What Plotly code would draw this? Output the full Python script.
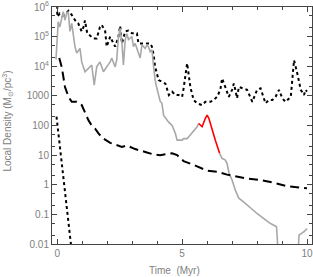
import plotly.graph_objects as go

# Dotted (upper) series
dot1_t = [0.0, 0.0, 0.1, 0.2, 0.3, 0.45, 0.58, 0.71, 0.84, 0.98, 1.05, 1.11, 1.2, 1.34, 1.45, 1.58,
          1.71, 1.78, 1.92, 1.98, 2.12, 2.25, 2.32, 2.45, 2.52, 2.59, 2.72, 2.85, 2.99, 3.12, 3.19,
          3.25, 3.4, 3.59, 3.72, 3.79, 3.86, 3.92, 3.99, 4.06, 4.19, 4.33, 4.47, 4.6, 4.73, 4.86,
          5.0, 5.06, 5.2, 5.26, 5.33, 5.46, 5.6, 5.8, 5.93, 6.13, 6.26, 6.4, 6.53, 6.6, 6.73, 6.87,
          7.0, 7.07, 7.13, 7.2, 7.27, 7.4, 7.6, 7.81, 8.0, 8.14, 8.34, 8.47, 8.61, 8.74, 8.88, 9.01,
          9.14, 9.35, 9.48, 9.61, 9.75, 9.88, 9.94, 10.0]
dot1_v = [1.1e6, 4.7e5, 6.0e5, 5.0e5, 5.5e5, 7.4e5, 5.4e5, 3.6e5, 2.8e5, 1.5e5, 2.1e5, 3.5e5, 1.3e5,
          1.0e5, 8.7e4, 8.7e4, 2.1e5, 2.5e5, 1.5e5, 4.6e4, 1.0e5, 5.9e4, 4.6e4, 1.0e5, 2.3e5, 5.9e4,
          1.5e5, 1.6e5, 1.3e5, 1.3e5, 1.3e5, 5.9e4, 5.9e4, 5.9e4, 5.9e4, 4.6e4, 2.4e4, 9.5e3, 5.0e3,
          3.4e3, 3.0e3, 2.6e3, 1.07e3, 1.38e3, 1.07e3, 1.07e3, 930, 1.8e3, 1.26e4, 5.8e3, 2.0e3,
          720, 560, 490, 630, 630, 720, 930, 1.6e3, 3.9e3, 1.8e3, 930, 1.6e3, 2.6e3, 1.6e3, 830,
          2.0e3, 1.8e3, 1.6e3, 630, 1.6e3, 1.8e3, 560, 720, 720, 930, 1.6e3, 830, 630, 930, 1.6e4,
          5.8e3, 1.6e3, 1.07e3, 1.6e3, 1.4e3]

# Grey solid series (with red segment)
grey_t = [-0.05, 0.04, 0.1, 0.24, 0.31, 0.38, 0.44, 0.51, 0.58, 0.64, 0.71, 0.78, 0.91, 0.98, 1.11,
          1.25, 1.38, 1.48, 1.58, 1.71, 1.85, 1.98, 2.12, 2.18, 2.32, 2.38, 2.45, 2.52, 2.59, 2.65,
          2.72, 2.79, 2.85, 2.99, 3.05, 3.12, 3.19, 3.25, 3.32, 3.39, 3.52, 3.59, 3.65, 3.72, 3.79,
          3.86, 3.92, 3.99, 4.06, 4.12, 4.19, 4.26, 4.46, 4.6, 4.73, 4.8, 5.0, 5.06, 5.2, 5.33, 5.46,
          5.6, 5.66]
grey_v = [1.7e4, 3.2e5, 2.1e5, 6.9e5, 3.6e5, 6.2e5, 6.9e5, 1.5e5, 2.8e5, 1.1e5, 4.6e4, 2.8e4,
          4.0e4, 1.4e4, 6.5e3, 8.5e3, 1.1e4, 2.3e3, 9.5e3, 1.4e4, 6.5e3, 9.5e3, 1.4e4, 1.9e4, 9.5e3,
          1.6e4, 1.0e5, 1.9e5, 5.9e4, 1.1e4, 7.6e4, 1.26e5, 8.0e4, 1.0e5, 4.6e4, 5.9e4, 4.0e4,
          3.1e4, 1.9e4, 5.2e4, 4.0e4, 5.2e4, 4.6e4, 3.1e4, 3.6e4, 9.5e3, 3.4e3, 1.8e3, 930, 660,
          560, 220, 130, 100, 54, 32, 32, 36, 36, 48, 69, 91, 117]
red_t = [5.66, 5.8, 5.93, 6.0, 6.07, 6.2, 6.33, 6.5]
red_v = [117, 91, 174, 224, 174, 69, 32, 11.5]
grey2_t = [6.5, 6.6, 6.73, 6.8, 6.88, 6.94, 7.0, 7.13, 7.27, 7.47, 7.74, 8.0, 8.27, 8.54, 8.78,
           8.9, 9.6, 9.68, 9.88, 10.0]
grey2_v = [11.5, 7.8, 6.8, 5.2, 2.4, 1.86, 1.45, 0.66, 0.35, 0.26, 0.16, 0.107, 0.072, 0.049,
           0.038, 0.001, 0.001, 0.02, 0.026, 0.033]

# Dashed series
dash_t = [0.08, 0.18, 0.31, 0.45, 0.58, 0.78, 0.98, 1.11, 1.25, 1.38, 1.51, 1.65, 1.85, 2.12, 2.38,
          2.59, 2.79, 3.12, 3.59, 3.86, 4.12, 4.6, 4.8, 5.06, 5.53, 6.0, 6.4, 6.8, 7.6, 8.14, 8.67,
          9.21, 9.68, 10.0]
dash_v = [1.9e4, 9.5e3, 2.0e3, 930, 630, 630, 490, 260, 150, 100, 79, 54, 36, 26, 22, 19, 21, 16,
          12.3, 10.5, 10.0, 11.5, 10.0, 6.3, 4.4, 3.0, 2.75, 2.2, 1.62, 1.45, 1.17, 0.89, 0.81, 0.76]

# Steep dotted series
dot2_t = [-0.03, 0.05, 0.13, 0.22, 0.31, 0.4, 0.5, 0.56]
dot2_v = [200, 50, 10, 2.0, 0.4, 0.08, 0.016, 0.008]

xticks = [0, 5, 10]
yticks = [1e6, 1e5, 1e4, 1000, 100, 10, 1, 0.1, 0.01]
ytext = ["10<sup>6</sup>", "10<sup>5</sup>", "10<sup>4</sup>", "1000", "100", "10", "1", "0.1", "0.01"]

fig = go.Figure()
fig.add_trace(go.Scatter(x=dot1_t, y=dot1_v, mode="lines",
                         line=dict(color="black", width=2, dash="dot")))
fig.add_trace(go.Scatter(x=grey_t, y=grey_v, mode="lines",
                         line=dict(color="#a8a8a8", width=1.6)))
fig.add_trace(go.Scatter(x=grey2_t, y=grey2_v, mode="lines",
                         line=dict(color="#a8a8a8", width=1.6)))
fig.add_trace(go.Scatter(x=red_t, y=red_v, mode="lines",
                         line=dict(color="red", width=1.6)))
fig.add_trace(go.Scatter(x=dash_t, y=dash_v, mode="lines",
                         line=dict(color="black", width=2, dash="9px,5px")))
fig.add_trace(go.Scatter(x=dot2_t, y=dot2_v, mode="lines",
                         line=dict(color="black", width=2, dash="dot")))

font = dict(family="Liberation Sans, Arial, sans-serif", size=10, color="#808080")

fig.update_layout(
    width=313, height=277,
    margin=dict(l=52, r=1, t=7, b=33),
    paper_bgcolor="white", plot_bgcolor="white",
    showlegend=False, font=font,
    xaxis=dict(range=[-0.21, 10.2], tickvals=xticks, ticks="inside", ticklen=5,
               tickcolor="#444", showline=True, linecolor="#444", linewidth=1, mirror="allticks",
               showgrid=False, zeroline=False, automargin=False,
               minor=dict(dtick=1, ticks="inside", ticklen=3, tickcolor="#444")),
    yaxis=dict(type="log", range=[-2, 6], tickvals=yticks, ticktext=ytext, ticks="inside",
               ticklen=5, tickcolor="#444", showline=True, linecolor="#444", linewidth=1,
               mirror="allticks", showgrid=False, zeroline=False, automargin=False,
               minor=dict(ticks="inside", ticklen=3, tickcolor="#444")),
    annotations=[
        dict(text="Time  (Myr)", xref="paper", yref="paper", x=0.47, y=-0.08,
             xanchor="center", yanchor="top", showarrow=False, font=font),
        dict(text="Local Density (M<sub>⊙</sub>/pc<sup>3</sup>)", xref="paper", yref="paper",
             x=-0.17, y=0.52, xanchor="center", yanchor="middle", textangle=-90,
             showarrow=False, font=font),
    ],
)
fig.write_html("out.html", config={"displayModeBar": False},
               post_script="document.body.style.margin='0';document.body.style.overflow='hidden';")
